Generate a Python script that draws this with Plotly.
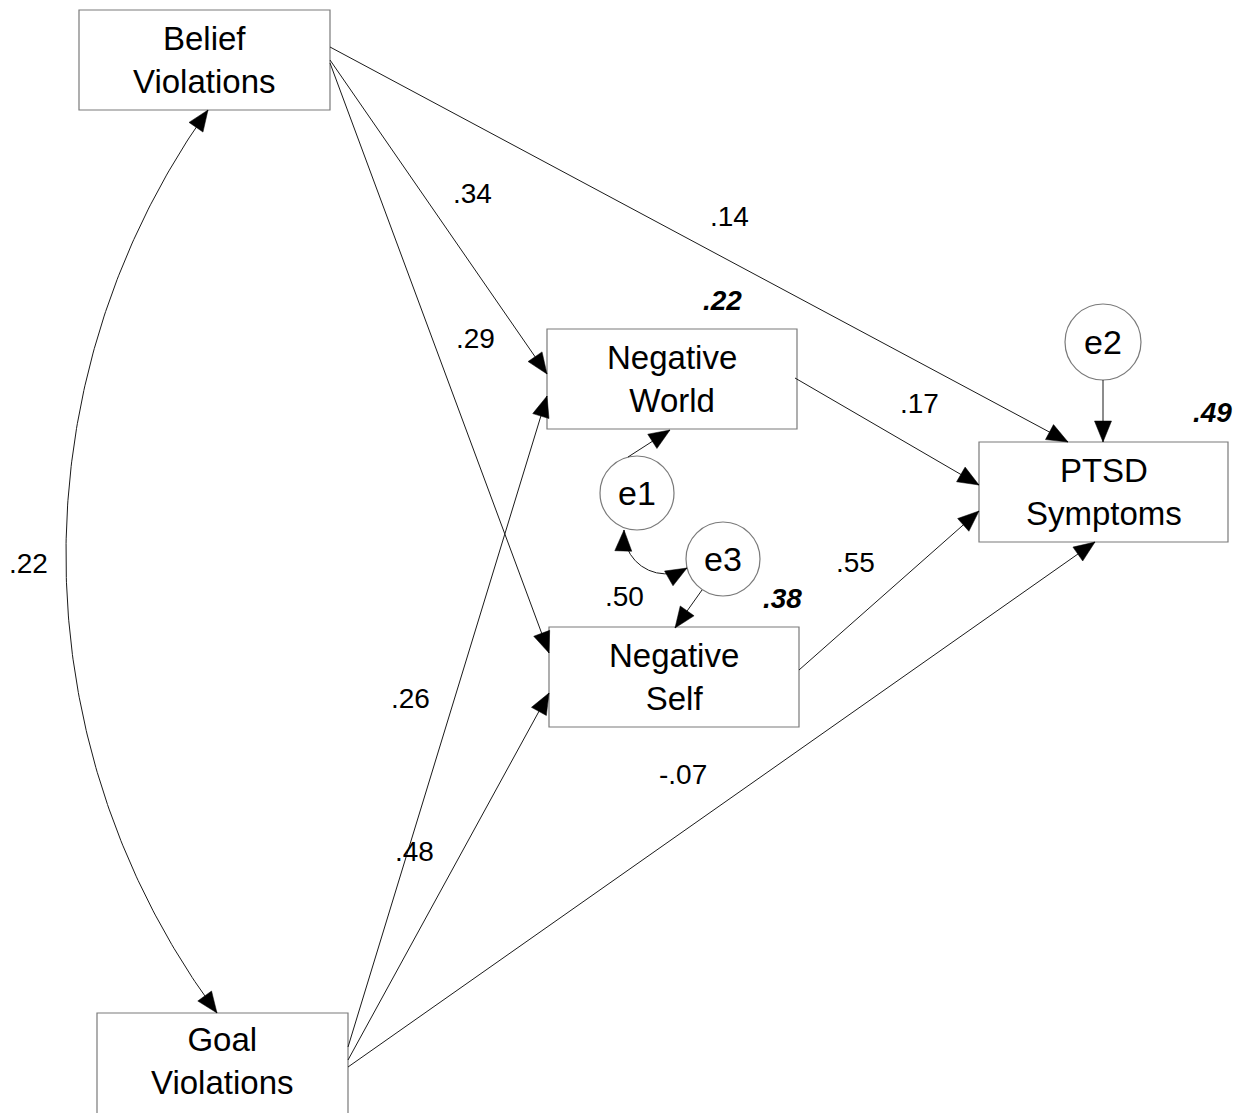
import math
import plotly.graph_objects as go

# ---------------- data ----------------
box_names = ["BV", "GV", "NW", "NS", "PT"]
box_labels = ["Belief<br>Violations", "Goal<br>Violations", "Negative<br>World",
              "Negative<br>Self", "PTSD<br>Symptoms"]
# x0, y0, x1, y1 (pixel layout)
box_rects = [(79, 10, 330, 110), (97, 1013, 348, 1122), (547, 329, 797, 429),
             (549, 627, 799, 727), (979, 442, 1228, 542)]
box_text_y = [60, 1061, 379, 677, 492]

err_names = ["e1", "e2", "e3"]
err_centers = [(637, 493), (1103, 342), (723, 559)]
err_radius = [37, 38, 37]

# directed paths: start point, tip point, coefficient, label position
path_start = [(330, 47), (330, 60), (330, 63), (795, 378), (799, 670),
              (348, 1067), (348, 1047), (348, 1060)]
path_tip = [(1068, 442), (547, 374), (549, 653), (979, 485), (979, 511),
            (1095, 542), (547, 396), (549, 693)]
path_coef = [".14", ".34", ".29", ".17", ".55", "-.07", ".26", ".48"]
path_label_pos = [(729, 216), (472, 193), (475, 338), (919, 403), (855, 562),
                  (683, 774), (410, 698), (414, 851)]

# residual paths (no label)
res_start = [(1103, 380), (628, 457), (702, 590)]
res_tip = [(1103, 442), (670, 430), (675, 628)]

# covariances (curved two-headed arrows): start, mid, end, label, label pos
cov_pts = [((208, 110), (66, 561), (217, 1013)),
           ((624, 530), (640, 565), (687, 568))]
cov_labels = [".22", ".50"]
cov_label_pos = [(28, 563), (624, 596)]

# squared multiple correlations
r2_labels = [".22", ".38", ".49"]
r2_pos = [(722, 300), (782, 598), (1212, 412)]

FONT = "Liberation Sans, Arial, sans-serif"
LINE = "#1a1a1a"
BOX = "#7a7a7a"
HEAD_L, HEAD_W = 21, 8.5
OFF = 8  # page body margin compensation

shapes = []
annotations = []


def head(tip, frm):
    dx, dy = tip[0] - frm[0], tip[1] - frm[1]
    n = math.hypot(dx, dy)
    ux, uy = dx / n, dy / n
    bx, by = tip[0] - ux * HEAD_L, tip[1] - uy * HEAD_L
    px, py = -uy * HEAD_W, ux * HEAD_W
    p = (f"M {tip[0]},{tip[1]} L {bx+px},{by+py} L {bx-px},{by-py} Z")
    shapes.append(dict(type="path", path=p, xref="x", yref="y",
                       fillcolor="black", line=dict(color="black", width=0.5)))


def circ3(a, b, c):
    ax, ay = a; bx, by = b; cx, cy = c
    d = 2 * (ax * (by - cy) + bx * (cy - ay) + cx * (ay - by))
    ux = ((ax**2 + ay**2) * (by - cy) + (bx**2 + by**2) * (cy - ay) + (cx**2 + cy**2) * (ay - by)) / d
    uy = ((ax**2 + ay**2) * (cx - bx) + (bx**2 + by**2) * (ax - cx) + (cx**2 + cy**2) * (bx - ax)) / d
    return ux, uy, math.hypot(ax - ux, ay - uy)


# boxes
for (x0, y0, x1, y1), lab, ty in zip(box_rects, box_labels, box_text_y):
    shapes.append(dict(type="rect", x0=x0, y0=y0, x1=x1, y1=y1, xref="x", yref="y",
                       line=dict(color=BOX, width=1.2), fillcolor="white", layer="below"))
    annotations.append(dict(x=(x0 + x1) / 2, y=ty, text=lab, showarrow=False,
                            xref="x", yref="y", font=dict(family=FONT, size=33, color="black")))

# error circles
for name, (cx, cy), r in zip(err_names, err_centers, err_radius):
    shapes.append(dict(type="circle", x0=cx - r, y0=cy - r, x1=cx + r, y1=cy + r,
                       xref="x", yref="y", line=dict(color=BOX, width=1.2), fillcolor="white",
                       layer="below"))
    annotations.append(dict(x=cx, y=cy, text=name, showarrow=False, xref="x", yref="y",
                            font=dict(family=FONT, size=34, color="black")))

# straight arrows
for s, t in list(zip(path_start, path_tip)) + list(zip(res_start, res_tip)):
    shapes.append(dict(type="line", x0=s[0], y0=s[1], x1=t[0], y1=t[1], xref="x", yref="y",
                       line=dict(color=LINE, width=1)))
    head(t, s)

for lab, (x, y) in zip(path_coef, path_label_pos):
    annotations.append(dict(x=x, y=y, text=lab, showarrow=False, xref="x", yref="y",
                            font=dict(family=FONT, size=28, color="black")))

# curved covariance arrows
fig = go.Figure()
for (p1, pm, p3) in cov_pts:
    ux, uy, r = circ3(p1, pm, p3)
    a1 = math.atan2(p1[1] - uy, p1[0] - ux)
    am = math.atan2(pm[1] - uy, pm[0] - ux)
    a3 = math.atan2(p3[1] - uy, p3[0] - ux)
    tw = 2 * math.pi
    d13 = (a3 - a1) % tw
    d1m = (am - a1) % tw
    span = d13 if d1m < d13 else -(tw - d13)
    n = 200
    xs = [ux + r * math.cos(a1 + span * i / n) for i in range(n + 1)]
    ys = [uy + r * math.sin(a1 + span * i / n) for i in range(n + 1)]
    fig.add_trace(go.Scatter(x=xs, y=ys, mode="lines", line=dict(color=LINE, width=1),
                             hoverinfo="skip", showlegend=False))
    head((xs[0], ys[0]), (xs[3], ys[3]))
    head((xs[-1], ys[-1]), (xs[-4], ys[-4]))

for lab, (x, y) in zip(cov_labels, cov_label_pos):
    annotations.append(dict(x=x, y=y, text=lab, showarrow=False, xref="x", yref="y",
                            font=dict(family=FONT, size=28, color="black")))

for lab, (x, y) in zip(r2_labels, r2_pos):
    annotations.append(dict(x=x, y=y, text=f"<b><i>{lab}</i></b>", showarrow=False,
                            xref="x", yref="y", font=dict(family=FONT, size=28, color="black")))

fig.update_layout(
    width=1249 - OFF, height=1113 - OFF, margin=dict(l=0, r=0, t=0, b=0),
    paper_bgcolor="white", plot_bgcolor="white",
    xaxis=dict(range=[OFF, 1249], visible=False, fixedrange=True),
    yaxis=dict(range=[1113, OFF], visible=False, fixedrange=True),
    shapes=shapes, annotations=annotations, showlegend=False,
)
fig.write_html("out.html")
